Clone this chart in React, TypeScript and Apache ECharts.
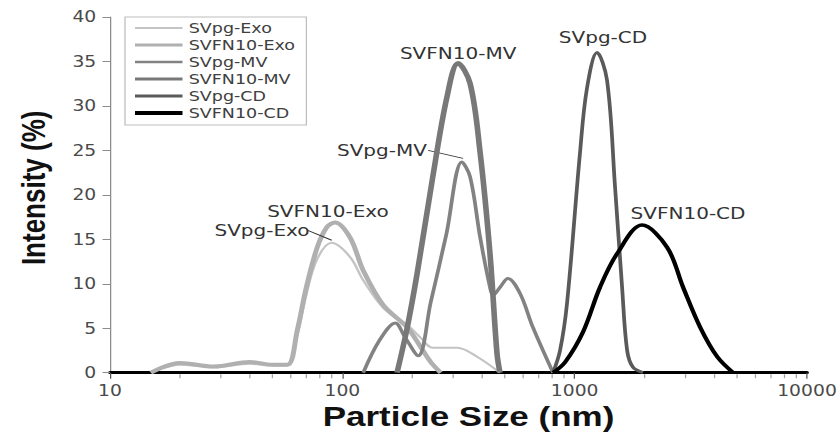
import React, { useEffect, useRef } from "react";
import * as echarts from "echarts";

// ---------- data (particle size in nm, intensity in %) ----------
const seriesNames = ["SVpg-Exo", "SVFN10-Exo", "SVpg-MV", "SVFN10-MV", "SVpg-CD", "SVFN10-CD"];

const sizeSVpgExo = [15, 20, 28, 40, 50, 58, 64, 70, 78, 90, 108, 123, 150, 190, 216, 246, 312, 380, 477];
const intSVpgExo = [0, 0.9, 0.6, 1.0, 0.8, 0.8, 4.2, 8.8, 12.8, 14.6, 13.0, 10.4, 7.3, 5.4, 4.0, 2.8, 2.8, 1.8, 0];

const sizeSVFN10Exo = [15, 20, 28, 40, 50, 58, 64, 70, 78, 86, 93, 108, 123, 150, 190, 216, 240, 265];
const intSVFN10Exo = [0, 1.1, 0.7, 1.2, 0.9, 0.9, 4.8, 9.6, 14.1, 16.4, 16.9, 15.2, 11.5, 7.6, 5.1, 3.0, 1.2, 0];

const sizeSVpgMV = [123, 145, 169, 186, 212, 240, 280, 327, 355, 392, 432, 445, 477, 516, 582, 661, 807];
const intSVpgMV = [0, 3.7, 5.6, 4.0, 1.9, 7.9, 15.5, 23.7, 22.0, 15.2, 9.6, 8.7, 9.6, 10.6, 8.9, 5.1, 0];

const sizeSVFN10MV = [172, 190, 210, 245, 282, 315, 355, 392, 432, 463, 477];
const intSVFN10MV = [0, 5.0, 11.2, 22.0, 31.0, 34.8, 32.5, 24.7, 13.4, 2.2, 0];

const sizeSVpgCD = [807, 865, 927, 1054, 1130, 1248, 1378, 1492, 1600, 1682, 1783, 1968];
const intSVpgCD = [0, 2.5, 7.8, 24.7, 32.0, 36.0, 32.9, 20.9, 9.6, 2.5, 0.6, 0];

const sizeSVFN10CD = [807, 910, 1087, 1285, 1524, 1950, 2500, 2930, 3470, 4105, 4810];
const intSVFN10CD = [0, 1.2, 4.6, 9.6, 13.4, 16.6, 14.1, 9.6, 5.1, 1.8, 0];

const xTickLabels = ["10", "100", "1000", "10000"];
const minorTickValues = [
  20, 30, 40, 50, 60, 70, 80, 90,
  200, 300, 400, 500, 600, 700, 800, 900,
  2000, 3000, 4000, 5000, 6000, 7000, 8000, 9000,
];

// ---------- layout / style ----------
const STRETCH = 1.25;
const W = 840 / STRETCH;
const H = 432;

const lineStyles = [
  { color: "#c4c4c4", width: 2, legendWidth: 2 },
  { color: "#b0b0b0", width: 4, legendWidth: 3 },
  { color: "#828282", width: 3, legendWidth: 2.5 },
  { color: "#787878", width: 4.5, legendWidth: 3 },
  { color: "#5a5a5a", width: 3, legendWidth: 3 },
  { color: "#000000", width: 3.5, legendWidth: 4 },
];

const annotations = [
  { series: 1, text: "SVFN10-Exo", at: [86.7, 18.1] },
  { series: 0, text: "SVpg-Exo", at: [45.1, 16.0], lead: [[71, 16.0], [90, 14.9]] },
  { series: 3, text: "SVFN10-MV", at: [315, 35.9] },
  { series: 2, text: "SVpg-MV", at: [148, 25.0], lead: [[234, 25.0], [331, 24.1]] },
  { series: 4, text: "SVpg-CD", at: [1324, 37.7] },
  { series: 5, text: "SVFN10-CD", at: [3076, 17.9] },
];

const pairs = (xs: number[], ys: number[]) => xs.map((x, i) => [x, ys[i]]);

export default function App() {
  const ref = useRef<HTMLDivElement>(null);

  useEffect(() => {
    if (!ref.current) return;
    const chart = echarts.init(ref.current, null, { renderer: "svg" });
    const dataSets = [
      pairs(sizeSVpgExo, intSVpgExo),
      pairs(sizeSVFN10Exo, intSVFN10Exo),
      pairs(sizeSVpgMV, intSVpgMV),
      pairs(sizeSVFN10MV, intSVFN10MV),
      pairs(sizeSVpgCD, intSVpgCD),
      pairs(sizeSVFN10CD, intSVFN10CD),
    ];
    const labelFont = { fontFamily: "DejaVu Sans", fontSize: 16, color: "#333333" };

    const lineSeries = seriesNames.map((name, i) => {
      const ann = annotations.filter((a) => a.series === i);
      return {
        type: "line",
        name,
        data: dataSets[i],
        smooth: 0.35,
        symbol: "none",
        showSymbol: false,
        lineStyle: { color: lineStyles[i].color, width: lineStyles[i].width },
        itemStyle: { color: lineStyles[i].color },
        z: 2 + i,
        markPoint: ann.length
          ? {
              silent: true,
              symbol: "circle",
              symbolSize: 0,
              data: ann.map((a) => ({
                name: a.text,
                coord: a.at,
                label: { show: true, position: "inside", formatter: "{b}", ...labelFont },
              })),
            }
          : undefined,
        markLine: ann.some((a) => a.lead)
          ? {
              silent: true,
              symbol: ["none", "none"],
              label: { show: false },
              lineStyle: { color: "#333333", width: 1, type: "solid" },
              data: ann
                .filter((a) => a.lead)
                .map((a) => [{ coord: a.lead![0] }, { coord: a.lead![1] }]),
            }
          : undefined,
      };
    });

    chart.setOption({
      animation: false,
      backgroundColor: "#ffffff",
      grid: {
        left: 88,
        right: W - 645.6,
        top: 17,
        bottom: 59.3,
        containLabel: false,
        outerBoundsMode: "none",
      },
      legend: {
        data: seriesNames.map((name, i) => ({
          name,
          icon: `path://M0,0H38V${lineStyles[i].legendWidth}H0Z`,
        })),
        orient: "vertical",
        left: 100,
        top: 17,
        padding: [4, 9, 5, 8],
        itemGap: 3,
        itemWidth: 38,
        itemHeight: 14,
        symbolKeepAspect: true,
        itemStyle: { borderWidth: 0 },
        borderColor: "#bdbdbd",
        borderWidth: 1,
        selectedMode: false,
        textStyle: { fontFamily: "DejaVu Sans", fontSize: 14, color: "#404040" },
      },
      xAxis: {
        type: "log",
        logBase: 10,
        min: 10,
        max: 10000,
        name: "Particle Size (nm)",
        nameLocation: "middle",
        nameGap: 28,
        nameTextStyle: {
          fontFamily: "Liberation Sans",
          fontWeight: "bold",
          fontSize: 28,
          color: "#111111",
          padding: [0, 0, 0, 16],
        },
        axisLine: { show: true, onZero: false, lineStyle: { color: "#000000", width: 3 } },
        axisTick: { show: true, length: 6, lineStyle: { color: "#555555", width: 1 } },
        axisLabel: {
          margin: 10,
          color: "#4a4a4a",
          fontFamily: "DejaVu Sans",
          fontSize: 15,
          formatter: (v: number) => xTickLabels.find((l) => Number(l) === Math.round(v)) ?? "",
        },
        splitLine: { show: false },
      },
      yAxis: {
        type: "value",
        min: 0,
        max: 40,
        interval: 5,
        name: "Intensity (%)",
        nameLocation: "middle",
        nameGap: 48,
        nameRotate: 90,
        nameTextStyle: {
          fontFamily: "Liberation Sans",
          fontWeight: "bold",
          fontSize: 26,
          color: "#111111",
          padding: [0, 0, 0, 14],
        },
        axisLine: { show: true, lineStyle: { color: "#8c8c8c", width: 1 } },
        axisTick: { show: true, length: 6, lineStyle: { color: "#8c8c8c", width: 1 } },
        axisLabel: { margin: 11, color: "#4a4a4a", fontFamily: "DejaVu Sans", fontSize: 15 },
        splitLine: { show: false },
      },
      series: [
        {
          type: "scatter",
          name: "minor ticks",
          data: minorTickValues.map((v) => [v, 0]),
          symbol: "rect",
          symbolSize: [1, 4],
          symbolOffset: [0, 3.5],
          itemStyle: { color: "#8a8a8a" },
          silent: true,
          clip: false,
          z: 1,
        },
        ...lineSeries,
      ],
    });

    return () => chart.dispose();
  }, []);

  return (
    <div
      ref={ref}
      style={{
        position: "absolute",
        left: 0,
        top: 0,
        width: W,
        height: H,
        transform: `scaleX(${STRETCH})`,
        transformOrigin: "0 0",
      }}
    />
  );
}
